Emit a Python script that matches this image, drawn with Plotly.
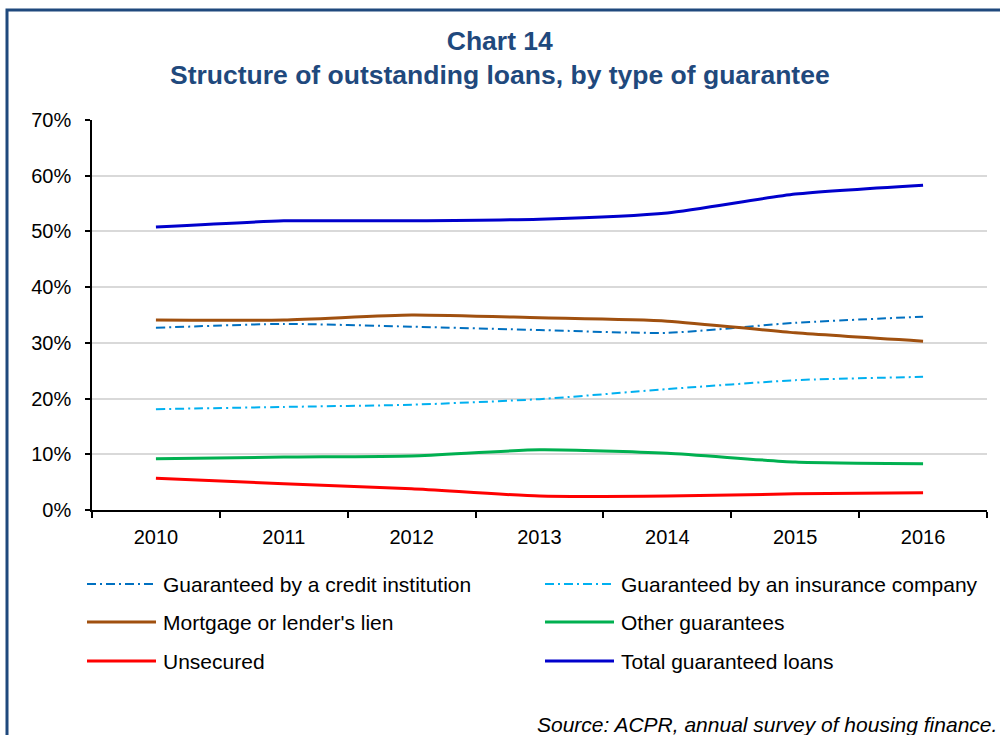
import plotly.graph_objects as go

years = ["2010", "2011", "2012", "2013", "2014", "2015", "2016"]
y_ticks = [0, 10, 20, 30, 40, 50, 60, 70]
y_tick_labels = ["0%", "10%", "20%", "30%", "40%", "50%", "60%", "70%"]

credit_institution = [32.7, 33.4, 32.9, 32.3, 31.8, 33.6, 34.7]
insurance_company = [18.1, 18.5, 18.9, 19.9, 21.7, 23.3, 23.9]
mortgage_lien = [34.1, 34.1, 35.0, 34.5, 33.9, 31.8, 30.3]
other_guarantees = [9.2, 9.5, 9.7, 10.8, 10.2, 8.6, 8.3]
unsecured = [5.7, 4.7, 3.8, 2.5, 2.5, 2.9, 3.1]
total_guaranteed = [50.8, 51.9, 51.9, 52.2, 53.3, 56.7, 58.3]

series = [
    ("Guaranteed by a credit institution", credit_institution, "#0070C0", 2, "9px,4px,2px,4px"),
    ("Guaranteed by an insurance company", insurance_company, "#00B0F0", 2, "9px,4px,2px,4px"),
    ("Mortgage or lender's lien", mortgage_lien, "#A0500F", 3, "solid"),
    ("Other guarantees", other_guarantees, "#00B050", 3, "solid"),
    ("Unsecured", unsecured, "#FF0000", 3, "solid"),
    ("Total guaranteed loans", total_guaranteed, "#0000CC", 3, "solid"),
]

FONT = "Liberation Sans, Arial, sans-serif"
NAVY = "#1F497D"

fig = go.Figure()
for name, vals, color, width, dash in series:
    fig.add_trace(go.Scatter(
        x=years, y=vals, name=name, mode="lines",
        line=dict(color=color, width=width, dash=dash, shape="spline", smoothing=0.6),
        showlegend=False,
    ))

# Plot area geometry in pixels (for paper-coordinate helpers)
W, H = 1000, 735
L, R, T, B = 92, 13, 120, 225
pw, ph = W - L - R, H - T - B


def px_x(x):
    return (x - L) / pw


def px_y(y):
    return (H - B - y) / ph


# Two-column legend drawn below the plot
shapes = []
annotations = []
col_x = [87, 545]
row_y = [584, 622, 661]
for i, (name, vals, color, width, dash) in enumerate(series):
    cx = col_x[i % 2]
    ry = row_y[i // 2]
    shapes.append(dict(
        type="line", xref="paper", yref="paper",
        x0=px_x(cx), x1=px_x(cx + 69), y0=px_y(ry), y1=px_y(ry),
        line=dict(color=color, width=width, dash=dash),
    ))
    annotations.append(dict(
        text=name, xref="paper", yref="paper",
        x=px_x(cx + 74), y=px_y(ry), xanchor="left", yanchor="middle",
        showarrow=False, font=dict(family=FONT, size=21, color="#000000"),
    ))

# Frame around the whole chart
shapes.append(dict(
    type="rect", xref="paper", yref="paper",
    x0=px_x(7), x1=px_x(1010), y0=px_y(10), y1=px_y(760),
    line=dict(color=NAVY, width=3), fillcolor="rgba(0,0,0,0)", layer="above",
))

annotations.append(dict(
    text="<b>Chart 14</b><br><b>Structure of outstanding loans, by type of guarantee</b>",
    xref="paper", yref="paper", x=px_x(500), y=px_y(58),
    xanchor="center", yanchor="middle", showarrow=False, align="center",
    font=dict(family=FONT, size=26.5, color=NAVY),
))
annotations.append(dict(
    text="<i>Source: ACPR, annual survey of housing finance.</i>",
    xref="paper", yref="paper", x=px_x(999), y=px_y(724),
    xanchor="right", yanchor="middle", showarrow=False,
    font=dict(family=FONT, size=21, color="#000000"),
))

fig.update_layout(
    width=W, height=H,
    margin=dict(l=L, r=R, t=T, b=B),
    paper_bgcolor="white", plot_bgcolor="white",
    font=dict(family=FONT, size=20, color="#000000"),
    shapes=shapes, annotations=annotations,
    showlegend=False,
)
fig.update_xaxes(
    type="category", range=[-0.5, 6.5],
    showline=True, linecolor="#000000", linewidth=1.5,
    ticks="outside", tickson="boundaries", ticklen=6, tickcolor="#000000", tickwidth=1.5,
    ticklabelstandoff=8,
    showgrid=False, tickfont=dict(family=FONT, size=20), fixedrange=True,
)
fig.update_yaxes(
    range=[0, 70], tickvals=y_ticks, ticktext=y_tick_labels,
    showline=True, linecolor="#000000", linewidth=1.5,
    ticks="outside", ticklen=5, tickcolor="#000000", tickwidth=1.5,
    ticklabelstandoff=10,
    showgrid=True, gridcolor="#D9D9D9", gridwidth=1.5, zeroline=False,
    tickfont=dict(family=FONT, size=20), fixedrange=True,
)

fig.write_html("out.html")
